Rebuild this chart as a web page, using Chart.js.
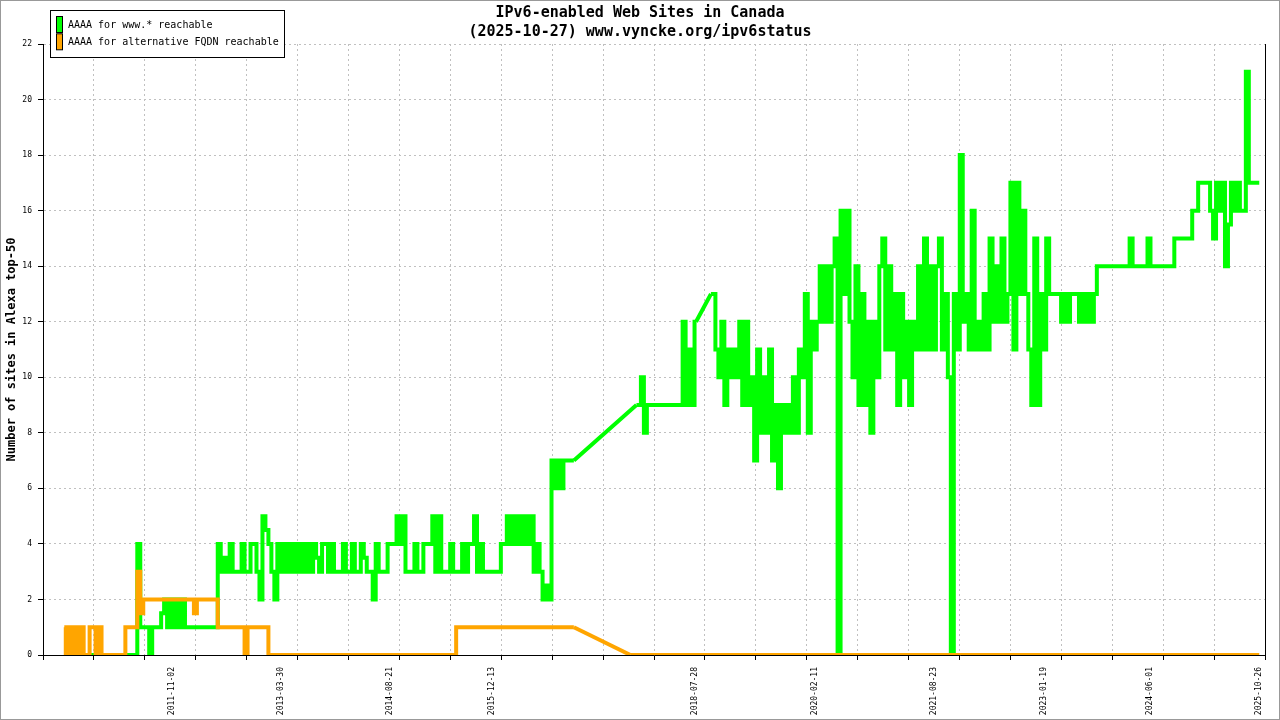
<!DOCTYPE html>
<html>
<head>
<meta charset="utf-8">
<title>IPv6-enabled Web Sites in Canada</title>
<script src="https://cdn.jsdelivr.net/npm/chart.js@4.4.1/dist/chart.umd.min.js"></script>
<style>
  html, body { margin: 0; padding: 0; background: #fff; }
  #wrap { width: 1280px; height: 720px; }
</style>
</head>
<body>
<div id="wrap"><canvas id="ipv6Chart" width="1280" height="720"></canvas></div>
<script>
var titleLines = ['IPv6-enabled Web Sites in Canada', '(2025-10-27) www.vyncke.org/ipv6status'];
var seriesNames = ['AAAA for www.* reachable', 'AAAA for alternative FQDN reachable'];
var yTitle = 'Number of sites in Alexa top-50';

// time axis range and the dates printed under it
var axisStart = '2010-03-07';
var axisEnd = '2025-11-24';
var tickLabels = ['2011-11-02', '2013-03-30', '2014-08-21', '2015-12-13', '2018-07-28',
                  '2020-02-11', '2021-08-23', '2023-01-19', '2024-06-01', '2025-10-26'];

// samples every two weeks, null = no measurement
var sampleStart = '2010-06-15';
var sampleStepDays = 14;

var wwwValues = [
  0, 0, 0, 0, 0, 0, 0, 0, 0, 0,
  0, 0, 0, 0, 0, 0, 0, 0, 0, 0,
  0, 0, 0, 0, 0, 4, 1, 1, 1, 0,
  1, 1, 1, 1.5, 2, 1, 2, 1, 2, 1,
  2, 1, 1, 1, 1, 1, 1, 1, 1, 1,
  1, 1, 4, 3, 3.5, 3, 4, 3, 3, 3,
  4, 3, 3, 4, 4, 3, 2, 5, 4.5, 4,
  3, 2, 4, 3, 4, 3, 4, 3, 4, 3,
  4, 3, 4, 3, 4, 3.5, 3, 4, 4, 3,
  4, 3, 3, 3, 4, 3, 3, 4, 3, 3,
  4, 3.5, 3, 3, 2, 4, 3, 3, 3, 4,
  4, 4, 5, 4, 5, 3, 3, 3, 4, 3,
  3, 4, 4, 4, 5, 3, 5, 3, 3, 3,
  4, 3, 3, 3, 4, 3, 4, 4, 5, 3,
  4, 3, 3, 3, 3, 3, 3, 4, 4, 5,
  4, 5, 4, 5, 4, 5, 4, 5, 3, 4,
  3, 2, 2.5, 2, 7, 6, 7, 6, 7, 7,
  7, 7, null, null, null, null, null, null, null, null,
  null, null, null, null, null, null, null, null, null, null,
  null, null, 9, 9, 10, 8, 9, 9, 9, 9,
  9, 9, 9, 9, 9, 9, 9, 9, 12, 9,
  11, 9, 12, null, null, null, null, 13, 13, 11,
  10, 12, 9, 11, 10, 11, 10, 12, 9, 12,
  9, 10, 7, 11, 8, 10, 8, 11, 7, 9,
  6, 9, 8, 9, 8, 10, 8, 11, 10, 13,
  8, 12, 11, 12, 14, 12, 14, 12, 14, 15,
  0, 16, 13, 16, 12, 10, 14, 9, 13, 9,
  12, 8, 12, 10, 14, 15, 11, 14, 11, 13,
  9, 13, 10, 12, 9, 12, 11, 14, 11, 15,
  11, 14, 11, 14, 15, 11, 13, 10, 0, 13,
  11, 18, 12, 13, 11, 16, 11, 12, 11, 13,
  11, 15, 12, 14, 12, 15, 12, 13, 17, 11,
  17, 13, 16, 13, 11, 9, 15, 9, 13, 11,
  15, 13, 13, 13, 13, 12, 13, 12, 13, 13,
  13, 12, 13, 12, 13, 12, 13, 14, 14, 14,
  14, 14, 14, 14, 14, 14, 14, 14, 15, 14,
  14, 14, 14, 14, 15, 14, 14, 14, 14, 14,
  14, 14, 14, 15, 15, 15, 15, 15, 15, 16,
  16, 17, 17, 17, 17, 16, 15, 17, 16, 17,
  14, 15.5, 17, 16, 17, 16, 16, 21, 17, 17,
  17, 17
];

// alternative FQDN: sample number where the value changes, and the value there
var altSampleIndex = [0, 1, 2, 3, 4, 5, 6, 7, 8, 9, 10, 11, 12, 13, 20, 21, 24, 25, 26, 27,
                      43, 44, 45, 51, 52, 60, 61, 62, 68, 69, 131, 132, 171, 180, 190, 401];
var altValues = [1, 0, 1, 0, 1, 0, 1, 0, 0, 1, 1, 0, 1, 0, 0, 1, 1, 3, 1.5, 2,
                 2, 1.5, 2, 2, 1, 1, 0, 1, 1, 0, 0, 1, 1, null, 0, 0];

function dayNumber(s) {
    var p = s.split('-');
    return Date.UTC(+p[0], +p[1] - 1, +p[2]) / 86400000;
}

var startDay = dayNumber(sampleStart);
var axisMin = dayNumber(axisStart);
var axisMax = dayNumber(axisEnd);

var labelByDay = {};
tickLabels.forEach(function (d) { labelByDay[dayNumber(d)] = d; });

// unlabeled grid ticks: 24 equal steps across the axis
var xTicks = [];
for (var k = 0; k <= 24; k++) {
    xTicks.push(axisMin + k * (axisMax - axisMin) / 24);
}
tickLabels.forEach(function (d) { xTicks.push(dayNumber(d)); });
xTicks.sort(function (a, b) { return a - b; });

function isLabelTick(ctx) {
    return ctx.tick && labelByDay[ctx.tick.value] !== undefined;
}

var wwwPoints = [];
wwwValues.forEach(function (v, i) {
    wwwPoints.push({x: startDay + i * sampleStepDays, y: v});
});
var altPoints = [];
altSampleIndex.forEach(function (n, i) {
    altPoints.push({x: startDay + n * sampleStepDays, y: altValues[i]});
});

// straight line across periods without measurements (gnuplot joins them)
function gapBridges(points) {
    var out = [];
    var last = null;
    var inGap = false;
    points.forEach(function (p) {
        if (p.y === null) {
            inGap = last !== null;
            return;
        }
        if (inGap) {
            out.push(last, p, {x: p.x, y: null});
            inGap = false;
        }
        last = p;
    });
    return out;
}

var monoFont = 'DejaVu Sans Mono';

function lineSet(label, points, color, order, stepped) {
    return {
        label: label,
        data: points,
        borderColor: color,
        backgroundColor: color,
        borderWidth: 4,
        borderJoinStyle: 'miter',
        borderCapStyle: 'butt',
        pointRadius: 0,
        tension: 0,
        stepped: stepped,
        spanGaps: false,
        fill: false,
        order: order,
        isBridge: !stepped
    };
}

var pageFrame = {
    id: 'pageFrame',
    beforeDraw: function (chart) {
        var ctx = chart.ctx;
        ctx.save();
        ctx.fillStyle = '#ffffff';
        ctx.fillRect(0, 0, chart.width, chart.height);
        ctx.restore();
    },
    afterDraw: function (chart) {
        var ctx = chart.ctx;
        ctx.save();
        ctx.strokeStyle = '#999999';
        ctx.lineWidth = 1;
        ctx.strokeRect(0.5, 0.5, chart.width - 1, chart.height - 1);
        ctx.restore();
    }
};

// gnuplot style key box in the upper left corner
var boxLegend = {
    id: 'boxLegend',
    afterDraw: function (chart) {
        var ctx = chart.ctx;
        ctx.save();
        ctx.fillStyle = '#ffffff';
        ctx.fillRect(50.5, 10.5, 234, 47);
        ctx.strokeStyle = '#000000';
        ctx.lineWidth = 1;
        ctx.strokeRect(50.5, 10.5, 234, 47);
        ctx.font = '10px "' + monoFont + '"';
        ctx.textBaseline = 'middle';
        ctx.textAlign = 'left';
        var row = 0;
        chart.data.datasets.forEach(function (ds) {
            if (ds.isBridge) return;
            var top = 16.5 + row * 17.3;
            ctx.fillStyle = ds.borderColor;
            ctx.fillRect(56.5, top, 6, 16);
            ctx.strokeRect(56.5, top, 6, 16);
            ctx.fillStyle = '#000000';
            ctx.fillText(ds.label, 68, top + 9);
            row++;
        });
        ctx.restore();
    }
};

var ctx = document.getElementById('ipv6Chart').getContext('2d');
var ipv6Chart = new Chart(ctx, {
    type: 'line',
    data: {
        datasets: [
            lineSet(seriesNames[0], wwwPoints, '#00ff00', 3, 'middle'),
            lineSet(seriesNames[1], altPoints, '#ffa500', 1, 'middle'),
            lineSet(seriesNames[0], gapBridges(wwwPoints), '#00ff00', 2, false),
            lineSet(seriesNames[1], gapBridges(altPoints), '#ffa500', 0, false)
        ]
    },
    options: {
        responsive: false,
        animation: false,
        devicePixelRatio: 1,
        events: [],
        layout: { padding: 0 },
        plugins: {
            legend: { display: false },
            tooltip: { enabled: false },
            title: {
                display: true,
                text: titleLines,
                color: '#000000',
                font: { family: monoFont, size: 15, weight: 'bold', lineHeight: 19 / 15 },
                padding: { top: 4, bottom: 2 }
            }
        },
        scales: {
            x: {
                type: 'linear',
                min: axisMin,
                max: axisMax,
                afterBuildTicks: function (scale) {
                    scale.ticks = xTicks.map(function (v) { return {value: v}; });
                },
                afterFit: function (scale) {
                    scale.height = 65;
                    scale.paddingLeft = 0;
                    scale.paddingRight = 0;
                },
                ticks: {
                    autoSkip: false,
                    minRotation: 90,
                    maxRotation: 90,
                    padding: 7,
                    color: '#000000',
                    font: { family: monoFont, size: 8 },
                    callback: function (value) { return labelByDay[value] || ''; }
                },
                grid: {
                    color: function (c) { return isLabelTick(c) ? 'rgba(0,0,0,0)' : '#c0c0c0'; },
                    tickColor: function (c) { return isLabelTick(c) ? 'rgba(0,0,0,0)' : '#000000'; },
                    tickLength: 5,
                    lineWidth: 1
                },
                border: { color: '#000000', width: 1, dash: [2, 3] }
            },
            y: {
                min: 0,
                max: 22,
                afterFit: function (scale) { scale.width = 43; },
                ticks: {
                    stepSize: 2,
                    padding: 6,
                    color: '#000000',
                    font: { family: monoFont, size: 8 }
                },
                grid: { color: '#c0c0c0', tickColor: '#000000', tickLength: 5 },
                border: { color: '#000000', width: 1, dash: [2, 3] },
                title: {
                    display: true,
                    text: yTitle,
                    color: '#000000',
                    font: { family: monoFont, size: 12, weight: 'bold' },
                    padding: { top: 5, bottom: 0 }
                }
            },
            y2: {
                position: 'right',
                min: 0,
                max: 22,
                afterFit: function (scale) { scale.width = 15; },
                ticks: { display: false },
                grid: { display: false, drawTicks: false },
                border: { color: '#000000', width: 1 }
            }
        }
    },
    plugins: [pageFrame, boxLegend]
});
</script>
</body>
</html>
